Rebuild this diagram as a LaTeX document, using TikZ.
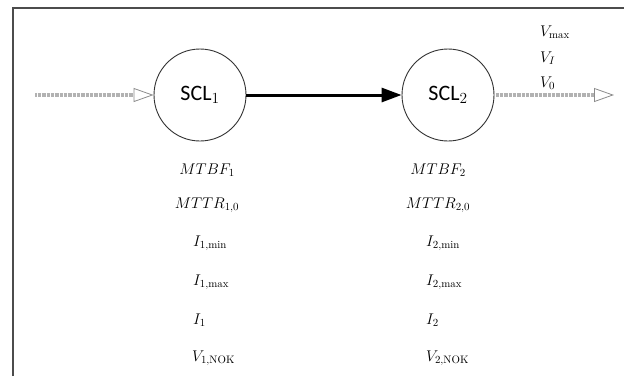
\RequirePackage{fix-cm}
\documentclass[tikz,border=0pt]{standalone}
\usepackage{fontspec}
\newfontfamily\calibri{Carlito}
\usetikzlibrary{arrows.meta}
\begin{document}
\begin{tikzpicture}[x=1pt,y=-1pt,
  sclnode/.style={circle,draw=black!80,line width=0.9pt,minimum size=92pt,inner sep=0pt,font=\calibri\fontsize{22}{26}\selectfont},
  flowin/.style={draw=black!30,line width=3.8pt,dash pattern=on 0.9pt off 0.4pt,
     -{Triangle[open,length=20pt,width=14pt,line width=0.8pt,color=black!45]}},
  mainarrow/.style={draw=black,line width=3pt,-{Triangle[length=20pt,width=14pt]}},
  lbl/.style={inner sep=0pt,font=\fontsize{15.5}{18}\selectfont},
  lbll/.style={lbl,anchor=west}]
\useasboundingbox (0,0) rectangle (624,376);
\fill[white] (0,0) rectangle (624,376);
\draw[black!70,line width=1.4pt] (13,376) -- (13,8) -- (624,8);
\node[sclnode] (s1) at (200,95) {SCL$_1$};
\node[sclnode] (s2) at (448,95) {SCL$_2$};
\coordinate (in) at (35,95);
\coordinate (out) at (614,95);
\draw[flowin] (in) -- (s1.west);
\draw[mainarrow] (s1.east) -- (s2.west);
\draw[flowin] (s2.east) -- (out);
\node[lbll] (vmax) at (540,32) {$V_{\mathrm{max}}$};
\node[lbll] (vi) at (540,58) {$V_I$};
\node[lbll] (v0) at (540,83) {$V_0$};
\node[lbl] (mtbf1) at (207,170) {$MTBF_1$};
\node[lbl] (mttr1) at (207,205) {$MTTR_{1,0}$};
\node[lbll] (i1min) at (193,243) {$I_{1,\mathrm{min}}$};
\node[lbll] (i1max) at (193,282) {$I_{1,\mathrm{max}}$};
\node[lbll] (i1) at (193,320) {$I_1$};
\node[lbll] (v1) at (192,358) {$V_{1,\mathrm{NOK}}$};
\node[lbl] (mtbf2) at (438,170) {$MTBF_2$};
\node[lbl] (mttr2) at (438,205) {$MTTR_{2,0}$};
\node[lbll] (i2min) at (426,243) {$I_{2,\mathrm{min}}$};
\node[lbll] (i2max) at (426,282) {$I_{2,\mathrm{max}}$};
\node[lbll] (i2) at (426,320) {$I_2$};
\node[lbll] (v2) at (426,358) {$V_{2,\mathrm{NOK}}$};
\end{tikzpicture}
\end{document}
